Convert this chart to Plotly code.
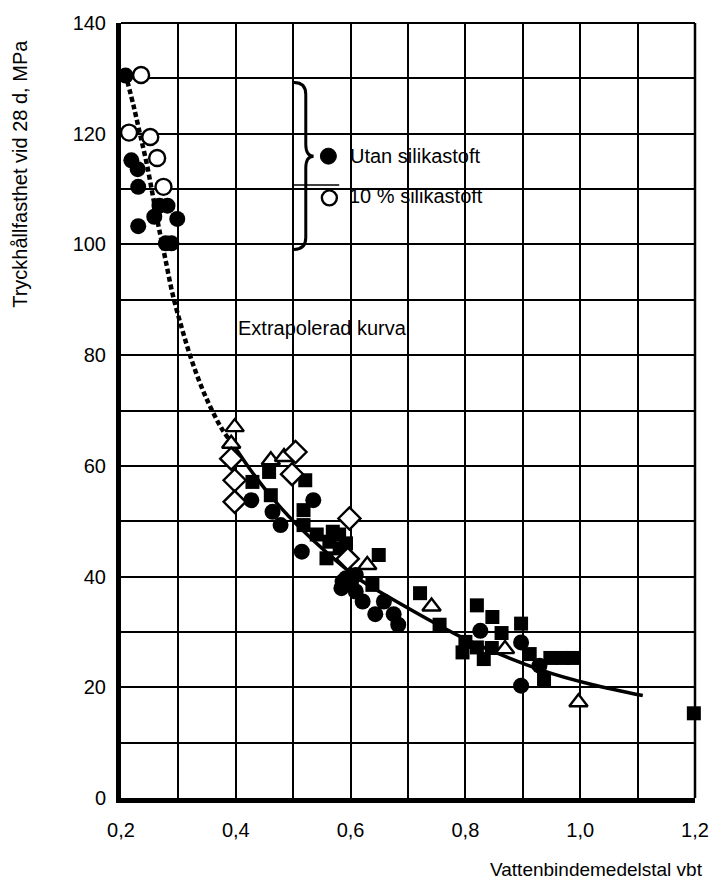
import plotly.graph_objects as go

# ---------------- data ----------------
# upper group (legend): filled = utan silikastoft, open = 10 % silikastoft
utan_x = [0.208, 0.218, 0.229, 0.230, 0.267, 0.281, 0.258, 0.298, 0.230, 0.278, 0.288]
utan_y = [130.5, 115.2, 113.6, 110.4, 107.0, 107.0, 105.0, 104.6, 103.3, 100.2, 100.2]
sil_x = [0.235, 0.214, 0.251, 0.263, 0.274]
sil_y = [130.6, 120.2, 119.4, 115.6, 110.4]

# lower groups
circ_x = [0.427, 0.464, 0.478, 0.535, 0.515, 0.586, 0.592, 0.601, 0.584, 0.609, 0.609,
          0.621, 0.643, 0.658, 0.675, 0.683, 0.826, 0.897, 0.929, 0.897]
circ_y = [53.8, 51.7, 49.3, 53.8, 44.5, 39.1, 39.7, 39.1, 37.9, 40.3, 37.3,
          35.5, 33.2, 35.5, 33.2, 31.3, 30.2, 28.1, 23.9, 20.3]
sq_x = [0.429, 0.458, 0.461, 0.521, 0.518, 0.518, 0.541, 0.563, 0.580, 0.558, 0.592,
        0.569, 0.581, 0.649, 0.638, 0.721, 0.755, 0.820, 0.847, 0.863, 0.897, 0.800,
        0.795, 0.832, 0.820, 0.846, 0.912, 0.937, 0.948, 0.969, 0.988, 1.198]
sq_y = [57.1, 58.9, 54.7, 57.4, 52.0, 49.3, 47.6, 46.3, 47.6, 43.3, 46.0,
        48.1, 45.1, 43.9, 38.5, 37.0, 31.3, 34.8, 32.7, 29.8, 31.5, 28.2,
        26.3, 25.1, 27.2, 27.1, 26.0, 21.5, 25.3, 25.3, 25.3, 15.3]
tri_x = [0.398, 0.392, 0.461, 0.484, 0.629, 0.741, 0.869, 0.997]
tri_y = [67.0, 64.0, 61.0, 61.6, 42.1, 34.6, 26.9, 17.3]
dia_x = [0.392, 0.398, 0.398, 0.504, 0.498, 0.598, 0.595]
dia_y = [61.3, 57.4, 53.5, 62.5, 58.5, 50.5, 43.2]

# curves
extrap_x = [0.211, 0.222, 0.233, 0.245, 0.256, 0.266, 0.277, 0.290, 0.307, 0.324, 0.347, 0.375, 0.392]
extrap_y = [129.5, 125.0, 120.0, 114.5, 108.5, 103.0, 97.5, 91.0, 84.5, 78.8, 72.6, 66.8, 64.3]
fit_x = [0.387, 0.426, 0.467, 0.507, 0.560, 0.621, 0.655, 0.752, 0.798, 0.935, 1.020, 1.109]
fit_y = [65.2, 59.2, 53.8, 49.3, 44.2, 39.1, 37.0, 31.3, 28.8, 23.0, 20.5, 18.5]

x_ticks = [0.2, 0.3, 0.4, 0.5, 0.6, 0.7, 0.8, 0.9, 1.0, 1.1, 1.2]
x_labels = ["0,2", "", "0,4", "", "0,6", "", "0,8", "", "1,0", "", "1,2"]
y_ticks = list(range(0, 141, 10))
y_labels = [str(v) if v % 20 == 0 else "" for v in y_ticks]

FONT = "Liberation Sans, Arial, Helvetica, sans-serif"

# ---------------- figure ----------------
fig = go.Figure()

fig.add_trace(go.Scatter(x=extrap_x, y=extrap_y, mode="lines",
                         line=dict(color="black", width=4.5, dash="5px,3px", shape="spline"),
                         hoverinfo="skip"))
fig.add_trace(go.Scatter(x=fit_x, y=fit_y, mode="lines",
                         line=dict(color="black", width=3.5, shape="spline"),
                         hoverinfo="skip"))

fig.add_trace(go.Scatter(x=sq_x, y=sq_y, mode="markers", cliponaxis=False,
                         marker=dict(symbol="square", size=14, color="black")))
fig.add_trace(go.Scatter(x=circ_x, y=circ_y, mode="markers", cliponaxis=False,
                         marker=dict(symbol="circle", size=16, color="black")))
fig.add_trace(go.Scatter(x=utan_x, y=utan_y, mode="markers", cliponaxis=False,
                         marker=dict(symbol="circle", size=16, color="black")))
fig.add_trace(go.Scatter(x=tri_x, y=tri_y, mode="markers", cliponaxis=False,
                         marker=dict(symbol="triangle-up", size=16, color="white",
                                     line=dict(color="black", width=2.4))))
fig.add_trace(go.Scatter(x=dia_x, y=dia_y, mode="markers", cliponaxis=False,
                         marker=dict(symbol="diamond", size=17, color="white",
                                     line=dict(color="black", width=2.4))))
fig.add_trace(go.Scatter(x=sil_x, y=sil_y, mode="markers", cliponaxis=False,
                         marker=dict(symbol="circle", size=16, color="white",
                                     line=dict(color="black", width=2.4))))

# pixel helpers for decorations
L, R, T, B = 121, 705, 18, 798
def px_x(p):
    return 0.2 + (p - L) / (R - L) * 1.0
def px_y(p):
    return (B - p) / (B - T) * 140.0

# brace
xa, xb, xt = px_x(297), px_x(309), px_x(317)
brace = (f"M {xa},{px_y(78)} Q {xb},{px_y(78)} {xb},{px_y(90)} "
         f"L {xb},{px_y(140)} Q {xb},{px_y(152)} {xt},{px_y(152)} "
         f"Q {xb},{px_y(152)} {xb},{px_y(164)} "
         f"L {xb},{px_y(234)} Q {xb},{px_y(246)} {xa},{px_y(246)}")
shapes = [
    dict(type="path", path=brace, xref="x", yref="y", line=dict(color="black", width=3)),
    dict(type="line", xref="x", yref="y", x0=px_x(295), x1=px_x(343), y0=px_y(181), y1=px_y(181),
         line=dict(color="black", width=1.5)),
    dict(type="circle", xref="x", yref="y", xsizemode="pixel", ysizemode="pixel",
         xanchor=px_x(332), yanchor=px_y(152), x0=-8, x1=8, y0=-8, y1=8,
         fillcolor="black", line=dict(color="black", width=1)),
    dict(type="circle", xref="x", yref="y", xsizemode="pixel", ysizemode="pixel",
         xanchor=px_x(333), yanchor=px_y(194), x0=-7.5, x1=7.5, y0=-7.5, y1=7.5,
         fillcolor="white", line=dict(color="black", width=2.4)),
    # right and top border
    dict(type="line", xref="paper", yref="paper", x0=1, x1=1, y0=0, y1=1,
         line=dict(color="black", width=2.5), layer="above"),
    dict(type="line", xref="paper", yref="paper", x0=0, x1=1, y0=1, y1=1,
         line=dict(color="black", width=2), layer="above"),
]

annotations = [
    dict(text="Utan silikastoft", x=px_x(352), y=px_y(152), xref="x", yref="y",
         xanchor="left", yanchor="middle", showarrow=False,
         font=dict(family=FONT, size=20, color="black")),
    dict(text="10 % silikastoft", x=px_x(351), y=px_y(192), xref="x", yref="y",
         xanchor="left", yanchor="middle", showarrow=False,
         font=dict(family=FONT, size=20, color="black")),
    dict(text="Extrapolerad kurva", x=px_x(238), y=px_y(325), xref="x", yref="y",
         xanchor="left", yanchor="middle", showarrow=False,
         font=dict(family=FONT, size=20, color="black")),
    dict(text="Tryckhållfasthet vid 28 d, MPa", x=(18 - L) / (R - L), y=(B - 170) / (B - T),
         xref="paper", yref="paper", textangle=-90, xanchor="center", yanchor="middle",
         showarrow=False, font=dict(family="Liberation Sans Narrow, " + FONT, size=20, color="black")),
    dict(text="Vattenbindemedelstal vbt", x=(715 - L) / (R - L), y=(B - 870) / (B - T),
         xref="paper", yref="paper", xanchor="right", yanchor="middle",
         showarrow=False, font=dict(family=FONT, size=19, color="black")),
]

fig.update_layout(
    width=721, height=888,
    margin=dict(l=L, r=721 - R, t=T, b=888 - B),
    paper_bgcolor="white", plot_bgcolor="white",
    showlegend=False,
    shapes=shapes, annotations=annotations,
    font=dict(family=FONT, size=20, color="black"),
)
fig.update_xaxes(range=[0.2, 1.2], tickvals=x_ticks, ticktext=x_labels,
                 showgrid=True, gridcolor="black", gridwidth=1.6,
                 showline=True, linecolor="black", linewidth=5,
                 zeroline=False, ticks="", ticklabelstandoff=10,
                 tickfont=dict(family=FONT, size=20, color="black"))
fig.update_yaxes(range=[0, 140], tickvals=y_ticks, ticktext=y_labels,
                 showgrid=True, gridcolor="black", gridwidth=1.6,
                 showline=True, linecolor="black", linewidth=5,
                 zeroline=False, ticks="", ticklabelstandoff=6,
                 tickfont=dict(family=FONT, size=20, color="black"))

fig.write_html("out.html")
